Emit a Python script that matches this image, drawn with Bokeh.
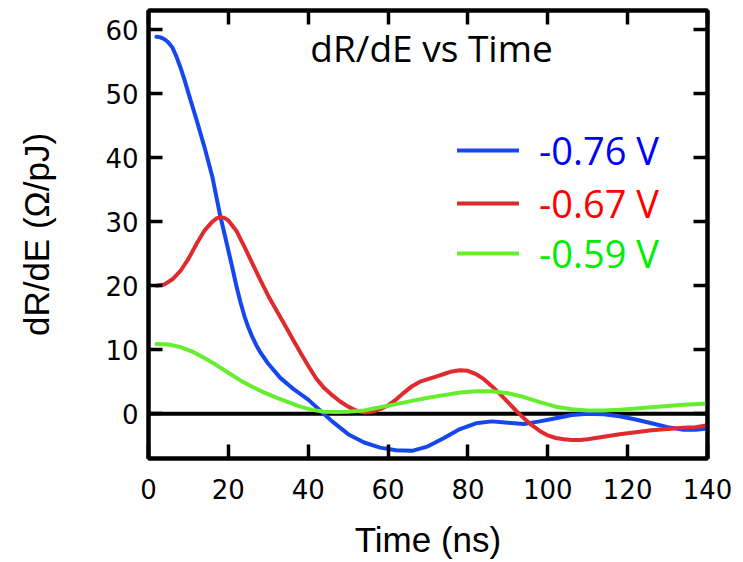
from bokeh.plotting import figure
from bokeh.models import (LinearAxis, Range1d, Span, Label, Legend, LegendItem,
                          FixedTicker, CustomJSTickFormatter)
from bokeh.embed import file_html
from bokeh.resources import INLINE

# ---- data ----
x_ticks = [0, 20, 40, 60, 80, 100, 120, 140]
y_ticks = [0, 10, 20, 30, 40, 50, 60]

series_labels = ["-0.76 V", "-0.67 V", "-0.59 V"]

blue_t = [2, 3, 4, 5, 6, 7, 8, 9, 10, 12, 14, 16, 18, 19, 20, 21, 22, 23, 24, 25,
          26, 27, 28, 30, 33, 36, 40, 43, 46, 50, 54, 58, 62, 66, 70, 74, 78, 82,
          86, 90, 94, 98, 102, 106, 110, 114, 118, 122, 126, 130, 134, 137, 140]
blue_v = [58.9, 58.8, 58.5, 58.0, 57.2, 55.8, 54.1, 52.2, 50.1, 46.0, 41.7, 37.0,
          30.8, 28.2, 25.5, 22.8, 20.0, 17.5, 15.3, 13.5, 12.0, 10.7, 9.6, 7.8,
          5.6, 4.0, 2.2, 0.5, -1.2, -3.2, -4.5, -5.3, -5.7, -5.8, -5.1, -3.8,
          -2.4, -1.5, -1.2, -1.4, -1.6, -1.2, -0.7, -0.2, 0.0, -0.1, -0.4, -0.9,
          -1.5, -2.1, -2.5, -2.5, -2.3]

red_t = [2, 4, 6, 8, 10, 12, 14, 16, 17, 18, 19, 20, 22, 24, 26, 28, 30, 32, 34,
         36, 38, 40, 42, 44, 46, 48, 50, 52, 54, 56, 58, 60, 62, 64, 66, 68, 70,
         72, 74, 76, 78, 80, 82, 84, 86, 88, 90, 92, 94, 96, 98, 100, 102, 104,
         106, 108, 110, 114, 118, 122, 126, 130, 134, 137, 140]
red_v = [20.0, 20.2, 21.0, 22.3, 24.2, 26.5, 28.6, 30.0, 30.5, 30.7, 30.6, 30.2,
         28.6, 26.1, 23.5, 20.9, 18.4, 16.2, 14.0, 11.8, 9.6, 7.5, 5.5, 4.0,
         2.9, 1.9, 1.1, 0.5, 0.2, 0.3, 0.7, 1.3, 2.2, 3.3, 4.3, 5.0, 5.4, 5.8,
         6.2, 6.6, 6.8, 6.7, 6.2, 5.4, 4.3, 3.1, 1.8, 0.5, -0.7, -1.8, -2.7,
         -3.4, -3.8, -4.0, -4.1, -4.1, -4.0, -3.6, -3.2, -2.9, -2.6, -2.4, -2.2,
         -2.1, -1.8]

green_t = [2, 5, 8, 11, 14, 17, 20, 23, 26, 29, 32, 35, 38, 41, 44, 47, 50, 54,
           58, 62, 66, 70, 74, 78, 82, 86, 90, 94, 98, 102, 106, 110, 114, 118,
           122, 126, 130, 134, 140]
green_v = [10.9, 10.8, 10.4, 9.7, 8.7, 7.6, 6.4, 5.2, 4.2, 3.3, 2.5, 1.8, 1.1,
           0.6, 0.3, 0.25, 0.3, 0.5, 1.0, 1.5, 2.0, 2.5, 2.9, 3.3, 3.5, 3.5, 3.2,
           2.6, 1.8, 1.1, 0.7, 0.5, 0.5, 0.6, 0.8, 1.0, 1.2, 1.4, 1.6]

# ---- figure ----
p = figure(width=743, height=562,
           x_range=Range1d(0, 140), y_range=Range1d(-7, 63),
           output_backend="svg", toolbar_location=None,
           min_border_left=148, min_border_right=36,
           min_border_top=10, min_border_bottom=104)
p.xgrid.visible = False
p.ygrid.visible = False
p.outline_line_color = "black"
p.outline_line_width = 4
p.background_fill_color = "white"
p.border_fill_color = "white"


def style_axis(ax, ticks):
    ax.ticker = FixedTicker(ticks=ticks)
    ax.major_tick_in = 14
    ax.major_tick_out = 0
    ax.minor_tick_in = 0
    ax.minor_tick_out = 0
    ax.axis_line_width = 4
    ax.axis_line_color = "black"
    ax.major_tick_line_width = 3.5
    ax.major_tick_line_color = "black"
    ax.major_label_text_font = "DejaVu Sans"
    ax.major_label_text_font_size = "26px"
    ax.major_label_text_color = "black"
    ax.axis_label_text_font = "Liberation Sans"
    ax.axis_label_text_font_size = "35px"
    ax.axis_label_text_font_style = "normal"
    ax.axis_label_text_color = "black"


xa = p.xaxis[0]
style_axis(xa, x_ticks)
xa.axis_label = "Time (ns)"
xa.major_label_standoff = 20
xa.axis_label_standoff = 18

ya = p.yaxis[0]
style_axis(ya, y_ticks)
ya.axis_label = "dR/dE (Ω/pJ)"
ya.major_label_standoff = 10
ya.axis_label_standoff = 46

top = LinearAxis(formatter=CustomJSTickFormatter(code="return ''"))
style_axis(top, x_ticks)
top.major_label_standoff = 0
p.add_layout(top, "above")

right = LinearAxis(formatter=CustomJSTickFormatter(code="return ''"))
style_axis(right, y_ticks)
right.major_label_standoff = 0
p.add_layout(right, "right")

# zero line
p.add_layout(Span(location=0, dimension="width", line_color="black",
                  line_width=4, level="underlay"))

# curves
curve_colors = ["#1546ee", "#e02a2e", "#66ee2e"]
renderers = []
for t, v, c in [(blue_t, blue_v, curve_colors[0]),
                (red_t, red_v, curve_colors[1]),
                (green_t, green_v, curve_colors[2])]:
    r = p.line(t, v, line_color=c, line_width=4, line_join="round",
               line_cap="round")
    renderers.append(r)

# legend (one per entry so each label has its own colour)
legend_text_colors = ["#0000ff", "#ff0000", "#00ee00"]
legend_pos = [(309, 282), (309, 229), (309, 179)]
for lab, r, tc, pos in zip(series_labels, renderers, legend_text_colors,
                           legend_pos):
    lg = Legend(items=[LegendItem(label=lab, renderers=[r])],
                location=pos, orientation="vertical",
                label_text_font="Open Sans", label_text_font_size="38px",
                label_text_color=tc, glyph_width=62, glyph_height=20,
                label_standoff=20, padding=0, margin=0, spacing=0,
                border_line_alpha=0, background_fill_alpha=0)
    p.add_layout(lg, "center")

# title inside the plot area
p.add_layout(Label(x=283, y=411, x_units="screen", y_units="screen",
                   text="dR/dE vs Time", text_font="Open Sans",
                   text_font_size="37px", text_align="center",
                   text_baseline="alphabetic", text_color="black"))

open("out.html", "w").write(file_html(p, INLINE))
